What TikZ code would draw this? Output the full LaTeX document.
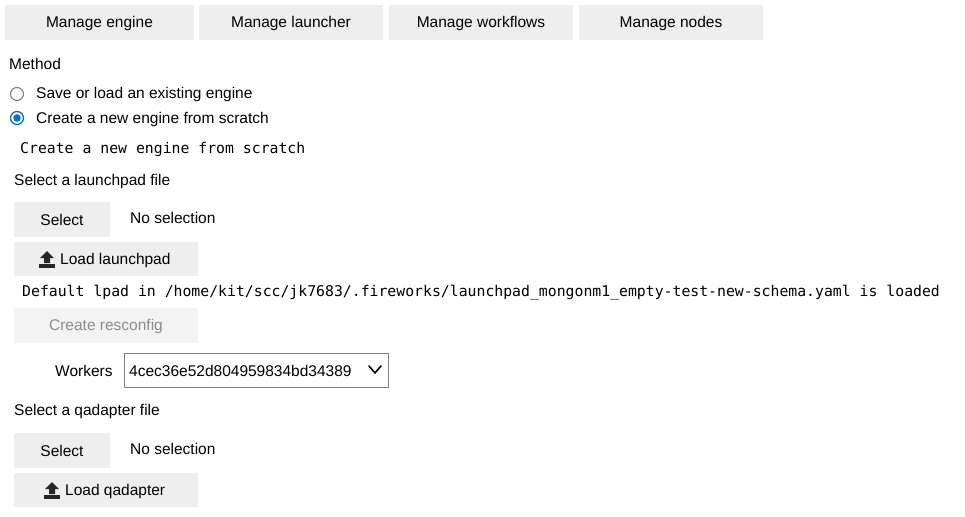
\documentclass[tikz,border=0pt]{standalone}
\usepackage{fontspec}
\setmainfont{Liberation Sans}
\setmonofont{DejaVu Sans Mono}
\begin{document}
\begin{tikzpicture}[x=1pt,y=-1pt,
  btn/.style={fill=btngray,draw=none},
  lbl/.style={anchor=west,inner sep=0pt,font=\fontsize{15.5}{18}\selectfont},
  mono/.style={anchor=west,inner sep=0pt,font=\ttfamily\fontsize{14.8}{17}\selectfont},
  ctext/.style={inner sep=0pt,font=\fontsize{15.5}{18}\selectfont}]
\definecolor{btngray}{HTML}{EEEEEE}
\definecolor{blue1}{HTML}{0B6FD6}
\useasboundingbox (0,0) rectangle (965,516);
% top buttons
\foreach \a/\b/\t/\n in {5/194/Manage engine/b1,199/383/Manage launcher/b2,389/573/Manage workflows/b3,579/763/Manage nodes/b4}{
  \fill[btngray] (\a,5) rectangle (\b,40);
  \node[ctext] (\n) at ({(\a+\b)/2},23) {\t};
}
\node[lbl] (method) at (9,64) {Method};
\draw[gray,line width=1.1pt] (17,94) circle (6.5);
\node[lbl] (r1) at (36,94) {Save or load an existing engine};
\draw[blue1,line width=1.3pt] (17,118) circle (6.5);
\fill[blue1] (17,118) circle (3.8);
\node[lbl] (r2) at (36,119) {Create a new engine from scratch};
\node[mono] (m1) at (20,149) {Create a new engine from scratch};
\node[lbl] (s1) at (14,181) {Select a launchpad file};
\fill[btngray] (14,202) rectangle (110,237);
\node[ctext] (sel1) at (62,220) {Select};
\node[lbl] (ns1) at (130,218) {No selection};
\fill[btngray] (14,242) rectangle (198,276);
\node[ctext,anchor=west] (ll) at (60,260) {Load launchpad};
\fill[black!85] (39,264) rectangle (55,267.5);
\fill[black!85] (47,251) -- (54,258) -- (50,258) -- (50,263) -- (44,263) -- (44,258) -- (40,258) -- cycle;
\node[mono] (m2) at (22,293) {Default lpad in /home/kit/scc/jk7683/.fireworks/launchpad\_mongonm1\_empty-test-new-schema.yaml is loaded};
\fill[btngray!70] (14,308) rectangle (198,343);
\node[ctext,text=black!45] (cr) at (106,326) {Create resconfig};
\node[lbl] (wk) at (55,371) {Workers};
\draw[black!50,line width=0.8pt] (124.5,353.5) rectangle (388,387);
\node[lbl] (wv) at (129,371) {4cec36e52d804959834bd34389};
\draw[line width=1.6pt,line cap=round,line join=round] (369,366) -- (375,373) -- (381,366);
\node[lbl] (s2) at (14,411) {Select a qadapter file};
\fill[btngray] (14,433) rectangle (110,468);
\node[ctext] (sel2) at (62,451) {Select};
\node[lbl] (ns2) at (130,449) {No selection};
\fill[btngray] (14,473) rectangle (198,507);
\node[ctext,anchor=west] (lq) at (65,491) {Load qadapter};
\fill[black!85] (44,495) rectangle (60,498.5);
\fill[black!85] (52,482) -- (59,489) -- (55,489) -- (55,494) -- (49,494) -- (49,489) -- (45,489) -- cycle;
\end{tikzpicture}
\end{document}
